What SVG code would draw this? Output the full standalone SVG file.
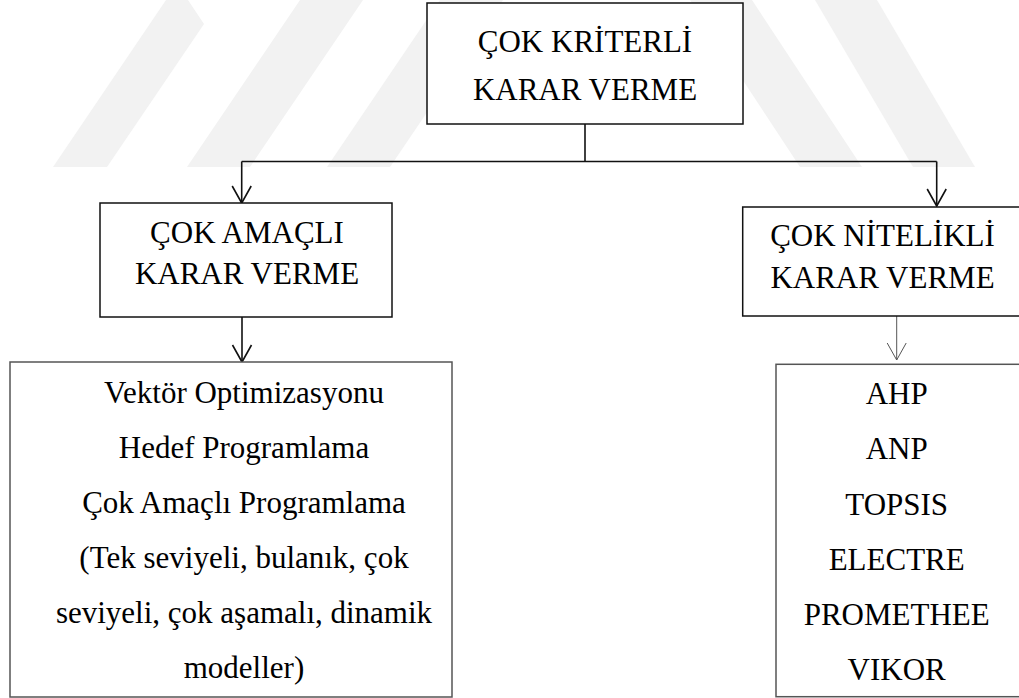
<svg xmlns="http://www.w3.org/2000/svg" width="1019" height="698" viewBox="0 0 1019 698">
  <style>
    .bg { fill: #ffffff; }
    .wm { fill: #f2f2f2; }
    .box { fill: #ffffff; stroke: #111111; stroke-width: 1.5; }
    .box-soft { fill: #ffffff; stroke: #555555; stroke-width: 1.5; }
    .lbl { font-family: "Liberation Serif", "Times New Roman", serif; font-size: 31px; fill: #000000; text-anchor: middle; }
    .link { fill: none; stroke: #111111; stroke-width: 1.6; }
    .link-thin { fill: none; stroke: #555555; stroke-width: 1; }
  </style>
  <defs>
    <!-- open V arrowheads, drawn pointing along +x so orient="auto" turns them with the line -->
    <marker id="vhead" markerUnits="userSpaceOnUse" markerWidth="20" markerHeight="22" refX="18" refY="10" orient="auto" viewBox="0 0 20 20">
      <path d="M1 0.5 L18 10 L1 19.5" fill="none" stroke="#111111" stroke-width="1.6"/>
    </marker>
    <marker id="vhead-thin" markerUnits="userSpaceOnUse" markerWidth="20" markerHeight="22" refX="18" refY="10" orient="auto" viewBox="0 0 20 20">
      <path d="M1 0.5 L18 10 L1 19.5" fill="none" stroke="#555555" stroke-width="1"/>
    </marker>
  </defs>

  <rect class="bg" x="0" y="0" width="1019" height="698"/>

  <!-- faint background stripes -->
  <g id="background-stripes">
    <polygon class="wm" points="53,167 107,167 204,24 188,0 166,0"/>
    <polygon class="wm" points="187,167 250,167 363,0 300,0"/>
    <polygon class="wm" points="327,167 390,167 503,0 440,0"/>
    <polygon class="wm" points="690,0 752,0 862,167 800,167"/>
    <polygon class="wm" points="815,0 877,0 975,167 913,167"/>
  </g>

  <!-- connectors -->
  <g id="connectors">
    <polyline class="link" points="585,124 585,161.5"/>
    <polyline class="link" points="241.7,161.5 936.7,161.5"/>
    <line class="link" x1="241.7" y1="161.5" x2="241.7" y2="203" marker-end="url(#vhead)"/>
    <line class="link" x1="936.7" y1="161.5" x2="936.7" y2="206" marker-end="url(#vhead)"/>
    <line class="link" x1="242" y1="317" x2="242" y2="362" marker-end="url(#vhead)"/>
    <line class="link-thin" x1="896.7" y1="316" x2="896.7" y2="360" marker-end="url(#vhead-thin)"/>
  </g>

  <!-- root -->
  <g id="node-ckkv">
    <rect class="box" x="427" y="3" width="316" height="121"/>
    <text class="lbl" x="585" y="52">ÇOK KRİTERLİ</text>
    <text class="lbl" x="585" y="99.5">KARAR VERME</text>
  </g>

  <!-- multi-objective branch -->
  <g id="node-cakv">
    <rect class="box" x="100" y="203" width="292" height="114"/>
    <text class="lbl" x="247" y="243">ÇOK AMAÇLI</text>
    <text class="lbl" x="247" y="284">KARAR VERME</text>
  </g>

  <!-- multi-attribute branch -->
  <g id="node-cnkv">
    <rect class="box" x="742.7" y="207" width="290" height="109"/>
    <text class="lbl" x="882.5" y="245.5">ÇOK NİTELİKLİ</text>
    <text class="lbl" x="882.5" y="288">KARAR VERME</text>
  </g>

  <!-- multi-objective methods -->
  <g id="node-ca-methods">
    <rect class="box-soft" x="10" y="362" width="442" height="335"/>
    <text class="lbl" x="244" y="403">Vektör Optimizasyonu</text>
    <text class="lbl" x="244" y="458">Hedef Programlama</text>
    <text class="lbl" x="244" y="513">Çok Amaçlı Programlama</text>
    <text class="lbl" x="244" y="568">(Tek seviyeli, bulanık, çok</text>
    <text class="lbl" x="244" y="623">seviyeli, çok aşamalı, dinamik</text>
    <text class="lbl" x="244" y="678">modeller)</text>
  </g>

  <!-- multi-attribute methods -->
  <g id="node-cn-methods">
    <rect class="box-soft" x="776" y="364.3" width="260" height="332.4"/>
    <text class="lbl" x="896.7" y="404">AHP</text>
    <text class="lbl" x="896.7" y="459">ANP</text>
    <text class="lbl" x="896.7" y="515">TOPSIS</text>
    <text class="lbl" x="896.7" y="570">ELECTRE</text>
    <text class="lbl" x="896.7" y="625">PROMETHEE</text>
    <text class="lbl" x="896.7" y="680">VIKOR</text>
  </g>
</svg>
